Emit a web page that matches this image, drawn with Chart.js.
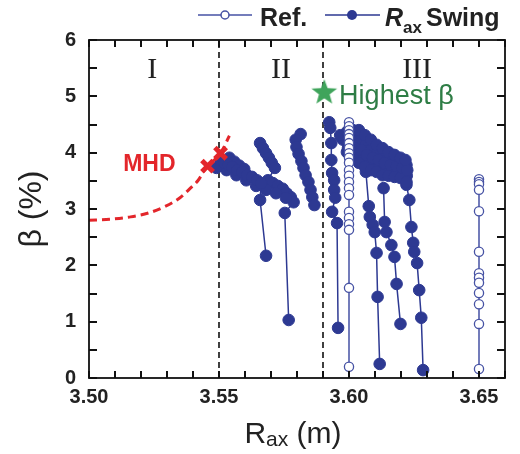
<!DOCTYPE html>
<html><head><meta charset="utf-8">
<script src="https://cdn.jsdelivr.net/npm/chart.js@4.4.1/dist/chart.umd.min.js"></script>
<style>html,body{margin:0;padding:0;background:#fff;}canvas{display:block;}</style>
</head><body>
<canvas id="c" width="520" height="454"></canvas>
<script>
// ---------------- data ----------------
const xTickLabels = ['3.50','3.55','3.60','3.65'];
const yTickLabels = ['0','1','2','3','4','5','6'];
const regionLabels = ['I','II','III'];
const boundaryX = [3.55, 3.59];

const mhdCurveX = [3.500,3.508,3.516,3.523,3.529,3.535,3.539,3.542,3.545,3.5506,3.554];
const mhdCurveY = [2.80,2.82,2.86,2.93,3.04,3.20,3.37,3.51,3.73,3.99,4.30];
const mhdPointX = [3.5456,3.5506];
const mhdPointY = [3.76,3.99];
const highestX = [3.5905];
const highestY = [5.08];

const refAX = [3.60,3.60,3.60,3.60,3.60,3.60,3.60,3.60,3.60,3.60,3.60,3.60,3.60,3.60,3.60,3.60,3.60,3.60,3.60,3.60,3.60];
const refAY = [4.54,4.47,4.40,4.33,4.26,4.17,4.08,3.99,3.91,3.82,3.69,3.59,3.48,3.37,3.25,2.95,2.84,2.73,2.63,1.60,0.20];
const refBX = [3.65,3.65,3.65,3.65,3.65,3.65,3.65,3.65,3.65,3.65,3.65,3.65,3.65];
const refBY = [3.53,3.48,3.44,3.34,2.96,2.24,1.86,1.78,1.69,1.51,1.31,0.96,0.16];

const swingAX = [3.5490,3.5506,3.5521,3.5536,3.5551,3.5570,3.5589,3.5608,3.5627,3.5646,3.5662,3.5658,3.5681];
const swingAY = [3.73,3.87,3.82,3.78,3.75,3.69,3.66,3.60,3.57,3.51,3.46,3.16,2.17];
const swingA2X = [3.5540,3.5559,3.5578,3.5597,3.5529,3.5567,3.5605,3.5643,3.5681,3.5719,3.5757];
const swingA2Y = [3.91,3.84,3.77,3.71,3.69,3.60,3.51,3.41,3.34,3.28,3.20];
const swingBX = [3.5658,3.5669,3.5681,3.5692,3.5703,3.5715,3.5688,3.5707,3.5726,3.5745,3.5760,3.5776,3.5787,3.5753,3.5768];
const swingBY = [4.17,4.08,3.99,3.91,3.82,3.73,3.51,3.46,3.41,3.36,3.28,3.21,3.12,2.93,1.03];
const swingCX = [3.5814,3.5795,3.5798,3.5806,3.5817,3.5825,3.5833,3.5844,3.5852,3.5859,3.5867];
const swingCY = [4.33,4.23,4.10,3.98,3.85,3.73,3.60,3.48,3.34,3.21,3.07];
const swingDX = [3.5924,3.5928,3.5932,3.5932,3.5935,3.5943,3.5943,3.5947,3.5935,3.5954,3.5958];
const swingDY = [4.54,4.44,4.17,3.87,3.64,3.51,3.34,3.20,2.95,2.75,0.89];
const swingE1X = [3.5966,3.5992,3.6015,3.6038,3.6061,3.6084,3.6106,3.6129,3.6152,3.6175,3.6198,3.6217];
const swingE1Y = [4.31,4.37,4.40,4.40,4.31,4.23,4.14,4.08,4.01,3.96,3.91,3.87];
const swingE2X = [3.5977,3.6000,3.6023,3.6046,3.6068,3.6091,3.6114,3.6137,3.6160,3.6183,3.6205,3.6224];
const swingE2Y = [4.23,4.14,4.08,4.05,3.96,3.91,3.87,3.82,3.78,3.76,3.73,3.69];
const swingE3X = [3.5992,3.6015,3.6038,3.6061,3.6084,3.6106,3.6129,3.6152,3.6175,3.6198,3.6221];
const swingE3Y = [4.01,3.91,3.82,3.75,3.69,3.66,3.60,3.59,3.57,3.55,3.48];
const swingE4X = [3.5972,3.5996,3.6019,3.6042,3.6065,3.6088,3.6110,3.6133,3.6156,3.6179,3.6202,3.6221];
const swingE4Y = [4.27,4.26,4.24,4.22,4.14,4.07,4.00,3.95,3.90,3.86,3.82,3.78];
const swingE5X = [3.5996,3.6019,3.6042,3.6065,3.6088,3.6110,3.6133,3.6156,3.6179,3.6202,3.6222];
const swingE5Y = [4.08,4.00,3.94,3.86,3.80,3.77,3.71,3.69,3.67,3.64,3.59];
const dropE1X = [3.6065,3.6076,3.6080,3.6091,3.6099,3.6106,3.6110,3.6118];
const dropE1Y = [3.66,3.05,2.86,2.72,2.59,2.22,1.44,0.25];
const dropE2X = [3.6133,3.6137,3.6144,3.6163,3.6175,3.6183,3.6198];
const dropE2Y = [3.37,2.77,2.59,2.36,2.15,1.67,0.96];
const dropE3X = [3.6221,3.6232,3.6240,3.6247,3.6251,3.6262,3.6270,3.6278,3.6285];
const dropE3Y = [3.43,3.16,2.68,2.40,2.24,2.04,1.56,1.07,0.14];

// ---------------- helpers / styles ----------------
const pts = (xs, ys) => xs.map((x, i) => ({x, y: ys[i]}));
const BLUE = '#2D3992', REFC = '#4652A4', RED = '#E3262B', GREEN_T = '#2E7D45', GREEN_S = '#3FA45B';

const starImg = document.createElement('canvas');
starImg.width = 28; starImg.height = 28;
(function(){
  const g = starImg.getContext('2d');
  g.fillStyle = GREEN_S; g.beginPath();
  for (let i = 0; i < 10; i++) {
    const r = i % 2 === 0 ? 13.5 : 5.6;
    const a = -Math.PI/2 + i*Math.PI/5;
    const px = 14 + r*Math.cos(a), py = 14.8 + r*Math.sin(a);
    i === 0 ? g.moveTo(px, py) : g.lineTo(px, py);
  }
  g.closePath(); g.fill();
})();

const swingStyle = {showLine:true, borderColor:BLUE, backgroundColor:BLUE, borderWidth:1.5,
  pointRadius:5.8, pointBorderWidth:1, pointBackgroundColor:BLUE, pointBorderColor:BLUE, order:4};
const fillStyle = {...swingStyle, showLine:false};
const refStyle = {showLine:true, borderColor:REFC, backgroundColor:'#fff', borderWidth:1.5,
  pointRadius:4.6, pointBorderWidth:1.3, pointBackgroundColor:'#fff', pointBorderColor:REFC, order:2};

const datasets = [
  {data:[{x:highestX[0],y:highestY[0]}], pointStyle:starImg, pointRadius:14, showLine:false, order:0},
  {data:pts(mhdPointX, mhdPointY), pointStyle:'crossRot', pointRadius:8, pointBorderWidth:5,
   borderColor:RED, pointBorderColor:RED, showLine:false, order:1},
  {data:pts(refAX, refAY), ...refStyle},
  {data:pts(refBX, refBY), ...refStyle},
  {data:pts(mhdCurveX, mhdCurveY), showLine:true, borderColor:RED, borderWidth:3, borderDash:[8,5],
   pointRadius:0, cubicInterpolationMode:'monotone', order:3},
  {data:pts(swingAX, swingAY), ...swingStyle},
  {data:pts(swingA2X, swingA2Y), ...fillStyle},
  {data:pts(swingBX, swingBY), ...swingStyle},
  {data:pts(swingCX, swingCY), ...swingStyle},
  {data:pts(swingDX, swingDY), ...swingStyle},
  {data:pts(swingE1X, swingE1Y), ...swingStyle},
  {data:pts(swingE2X, swingE2Y), ...swingStyle},
  {data:pts(swingE3X, swingE3Y), ...swingStyle},
  {data:pts(swingE4X, swingE4Y), ...fillStyle},
  {data:pts(swingE5X, swingE5Y), ...fillStyle},
  {data:pts(dropE1X, dropE1Y), ...swingStyle},
  {data:pts(dropE2X, dropE2Y), ...swingStyle},
  {data:pts(dropE3X, dropE3Y), ...swingStyle},
];
boundaryX.forEach(bx => datasets.push({data:[{x:bx,y:0},{x:bx,y:6}], showLine:true, borderColor:'#111',
  borderWidth:1.6, borderDash:[6,4], pointRadius:0, order:5}));

const annotations = [
  {text:regionLabels[0], x:3.5243, y:5.33, font:'30px "Liberation Serif", serif', color:'#222', align:'center'},
  {text:regionLabels[1], x:3.5738, y:5.33, font:'30px "Liberation Serif", serif', color:'#222', align:'center'},
  {text:regionLabels[2], x:3.6262, y:5.33, font:'30px "Liberation Serif", serif', color:'#222', align:'center'},
  {text:'MHD', x:3.5232, y:3.68, font:'bold 23px "Liberation Sans", Arial, sans-serif', color:RED, align:'center'},
  {text:'Highest β', x:3.5962, y:4.86, font:'27px "Liberation Sans", Arial, sans-serif', color:GREEN_T, align:'left'},
];

const decor = {
  id:'decor',
  afterDraw(chart){
    const {ctx, chartArea:a} = chart;
    const x = chart.scales.x, y = chart.scales.y;
    ctx.save();
    ctx.setLineDash([]);
    // ticks (inward, all four sides)
    ctx.fillStyle = '#111';
    for (let k = 350; k <= 366; k++) {
      const p = Math.round(x.getPixelForValue(k / 100));
      ctx.fillRect(p - 1, a.bottom - 7, 2, 7);
      ctx.fillRect(p - 1, a.top, 2, 7);
    }
    for (let k = 0; k <= 12; k++) {
      const p = Math.round(y.getPixelForValue(k / 2));
      ctx.fillRect(a.left, p - 1, 8, 2);
      ctx.fillRect(a.right - 8, p - 1, 8, 2);
    }
    // frame
    ctx.strokeStyle = '#111'; ctx.lineWidth = 1.8;
    ctx.strokeRect(a.left, a.top, a.right - a.left, a.bottom - a.top);
    // annotations
    annotations.forEach(n => { ctx.font = n.font; ctx.fillStyle = n.color; ctx.textAlign = n.align;
      ctx.textBaseline = 'alphabetic'; ctx.fillText(n.text, x.getPixelForValue(n.x), y.getPixelForValue(n.y)); });
    // x title  R_ax (m)
    ctx.fillStyle = '#222'; ctx.textBaseline = 'alphabetic'; ctx.textAlign = 'left';
    const big = '30px "Liberation Sans", Arial, sans-serif', small = '21px "Liberation Sans", Arial, sans-serif';
    ctx.font = big; const wR = ctx.measureText('R').width, wM = ctx.measureText(' (m)').width;
    ctx.font = small; const wA = ctx.measureText('ax').width;
    let sx = (a.left + a.right) / 2 - (wR + wA + wM) / 2 - 4; const by = 443;
    ctx.font = big; ctx.fillText('R', sx, by); sx += wR;
    ctx.font = small; ctx.fillText('ax', sx, by + 3); sx += wA;
    ctx.font = big; ctx.fillText(' (m)', sx, by);
    // y title
    ctx.save(); ctx.translate(41, (a.top + a.bottom) / 2); ctx.rotate(-Math.PI / 2);
    ctx.textAlign = 'center'; ctx.font = '32px "Liberation Sans", Arial, sans-serif';
    ctx.fillText('β (%)', 0, 0); ctx.restore();
    // legend
    ctx.strokeStyle = REFC; ctx.lineWidth = 1.5; ctx.beginPath(); ctx.moveTo(198, 15); ctx.lineTo(252, 15); ctx.stroke();
    ctx.beginPath(); ctx.arc(225, 15, 4, 0, Math.PI * 2); ctx.fillStyle = '#fff'; ctx.fill(); ctx.stroke();
    ctx.fillStyle = '#222'; ctx.font = 'bold 25px "Liberation Sans", Arial, sans-serif'; ctx.textAlign = 'left';
    ctx.fillText('Ref.', 260, 26);
    ctx.strokeStyle = BLUE; ctx.beginPath(); ctx.moveTo(325, 15); ctx.lineTo(380, 15); ctx.stroke();
    ctx.beginPath(); ctx.arc(352, 15, 5, 0, Math.PI * 2); ctx.fillStyle = BLUE; ctx.fill();
    ctx.fillStyle = '#222'; ctx.font = 'italic bold 25px "Liberation Sans", Arial, sans-serif';
    ctx.fillText('R', 385, 26); let lx = 385 + ctx.measureText('R').width;
    ctx.font = 'bold 17px "Liberation Sans", Arial, sans-serif'; ctx.fillText('ax', lx, 33);
    lx += ctx.measureText('ax').width + 4;
    ctx.font = 'bold 25px "Liberation Sans", Arial, sans-serif'; ctx.fillText('Swing', lx, 26);
    ctx.restore();
  }
};

const tickFont = {family:'"Liberation Sans", Arial, sans-serif', size:20, weight:'bold'};
new Chart(document.getElementById('c'), {
  type:'scatter',
  data:{datasets},
  plugins:[decor],
  options:{
    responsive:false, animation:false, devicePixelRatio:1, events:[],
    layout:{padding:{top:40, right:10, left:0, bottom:0}},
    plugins:{legend:{display:false}, tooltip:{enabled:false}},
    scales:{
      x:{type:'linear', min:3.50, max:3.66, grid:{display:false, drawTicks:false}, border:{display:false},
        afterFit:s => { s.height = 76; },
        ticks:{stepSize:0.01, autoSkip:false, maxRotation:0, padding:7, color:'#222', font:tickFont,
          callback:v => { const k = Math.round(v * 100); const lab = (k / 100).toFixed(2);
            return (k % 5 === 0 && xTickLabels.includes(lab)) ? lab : ''; }}},
      y:{type:'linear', min:0, max:6, grid:{display:false, drawTicks:false}, border:{display:false},
        afterFit:s => { s.width = 89; },
        ticks:{stepSize:0.5, autoSkip:false, padding:13, color:'#222', font:tickFont,
          callback:v => { const lab = String(Math.round(v)); return (Math.abs(v - Math.round(v)) < 1e-6 && yTickLabels.includes(lab)) ? lab : ''; }}}
    }
  }
});
</script>
</body></html>
